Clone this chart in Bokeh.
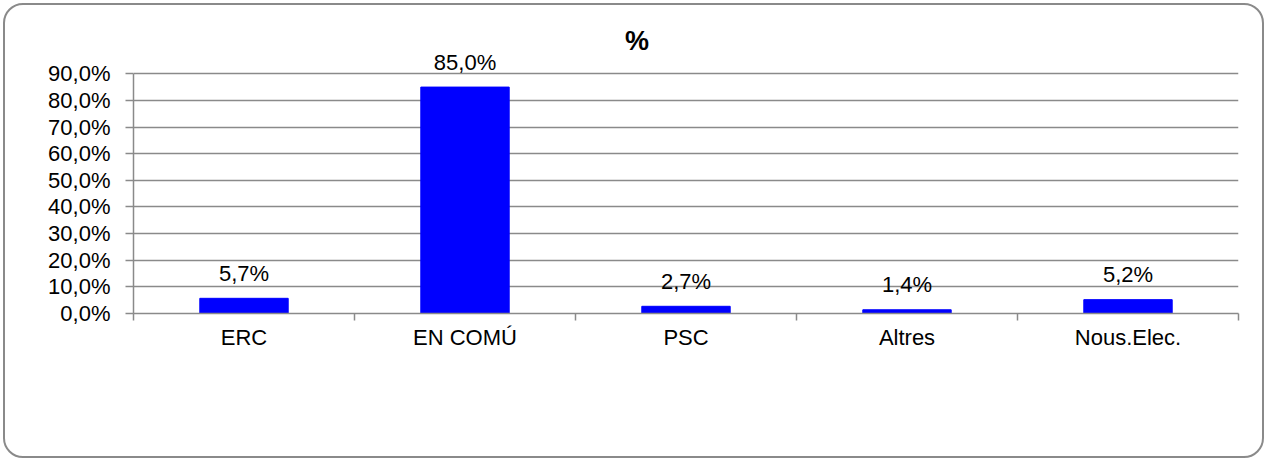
from bokeh.plotting import figure
from bokeh.models import Range1d, FixedTicker, ColumnDataSource
from bokeh.core.properties import value
from bokeh.embed import file_html
from bokeh.resources import INLINE

categories = ["ERC", "EN COMÚ", "PSC", "Altres", "Nous.Elec."]
percent = [5.7, 85.0, 2.7, 1.4, 5.2]
value_labels = ["5,7%", "85,0%", "2,7%", "1,4%", "5,2%"]
y_ticks = [0, 10, 20, 30, 40, 50, 60, 70, 80, 90]
y_tick_labels = ["0,0%", "10,0%", "20,0%", "30,0%", "40,0%", "50,0%",
                 "60,0%", "70,0%", "80,0%", "90,0%"]
title_text = "%"

FONT = "Liberation Sans"
GRAY = "#8a8a8a"

centers = [i + 0.5 for i in range(len(categories))]
bounds_x = list(range(len(categories) + 1))

src = ColumnDataSource(dict(x=centers, top=percent, lab=value_labels))

p = figure(width=1257, height=451, output_backend="svg", toolbar_location=None,
           x_range=Range1d(0, len(categories)), y_range=Range1d(0, 110))
p.min_border_left = 128
p.min_border_right = 28
p.min_border_top = 15
p.min_border_bottom = 147
p.outline_line_color = None
p.background_fill_color = None
p.border_fill_color = None
p.styles = {"margin": "3px 0px 0px 3px", "border": "2px solid #8a8a8a",
            "border-radius": "20px", "box-sizing": "content-box",
            "overflow": "hidden"}

p.vbar(x="x", top="top", width=0.4, bottom=0, source=src,
       fill_color="#0000ff", line_color="#0000ff")

p.text(x="x", y="top", text="lab", source=src, y_offset=-25,
       text_align="center", text_baseline="alphabetic",
       text_font=value(FONT), text_font_size="22px", text_color="black")

p.text(x=[2.278], y=[102.3], text=[title_text], text_align="center",
       text_baseline="middle", text_font=value(FONT), text_font_size="27px",
       text_font_style="bold", text_color="black")

# y axis
ya = p.yaxis[0]
ya.ticker = FixedTicker(ticks=y_ticks)
ya.major_label_overrides = {t: l for t, l in zip(y_ticks, y_tick_labels)}
ya.bounds = (0, 90)
ya.axis_line_color = GRAY
ya.axis_line_width = 1.5
ya.major_tick_line_color = GRAY
ya.major_tick_line_width = 1.5
ya.major_tick_out = 8
ya.major_tick_in = 0
ya.minor_tick_line_color = None
ya.major_label_standoff = 15
ya.major_label_text_font = FONT
ya.major_label_text_font_size = "22px"
ya.major_label_text_color = "black"

# x axis
xa = p.xaxis[0]
xa.ticker = FixedTicker(ticks=centers, minor_ticks=bounds_x)
xa.major_label_overrides = {c: n for c, n in zip(centers, categories)}
xa.axis_line_color = GRAY
xa.axis_line_width = 1.5
xa.major_tick_line_color = None
xa.major_tick_out = 0
xa.major_tick_in = 0
xa.minor_tick_line_color = GRAY
xa.minor_tick_line_width = 1.5
xa.minor_tick_out = 7
xa.minor_tick_in = 0
xa.major_label_standoff = 4
xa.major_label_text_font = FONT
xa.major_label_text_font_size = "22px"
xa.major_label_text_color = "black"

p.xgrid.grid_line_color = None
p.ygrid.grid_line_color = GRAY
p.ygrid.grid_line_width = 1.5

open("out.html", "w").write(file_html(p, INLINE))
